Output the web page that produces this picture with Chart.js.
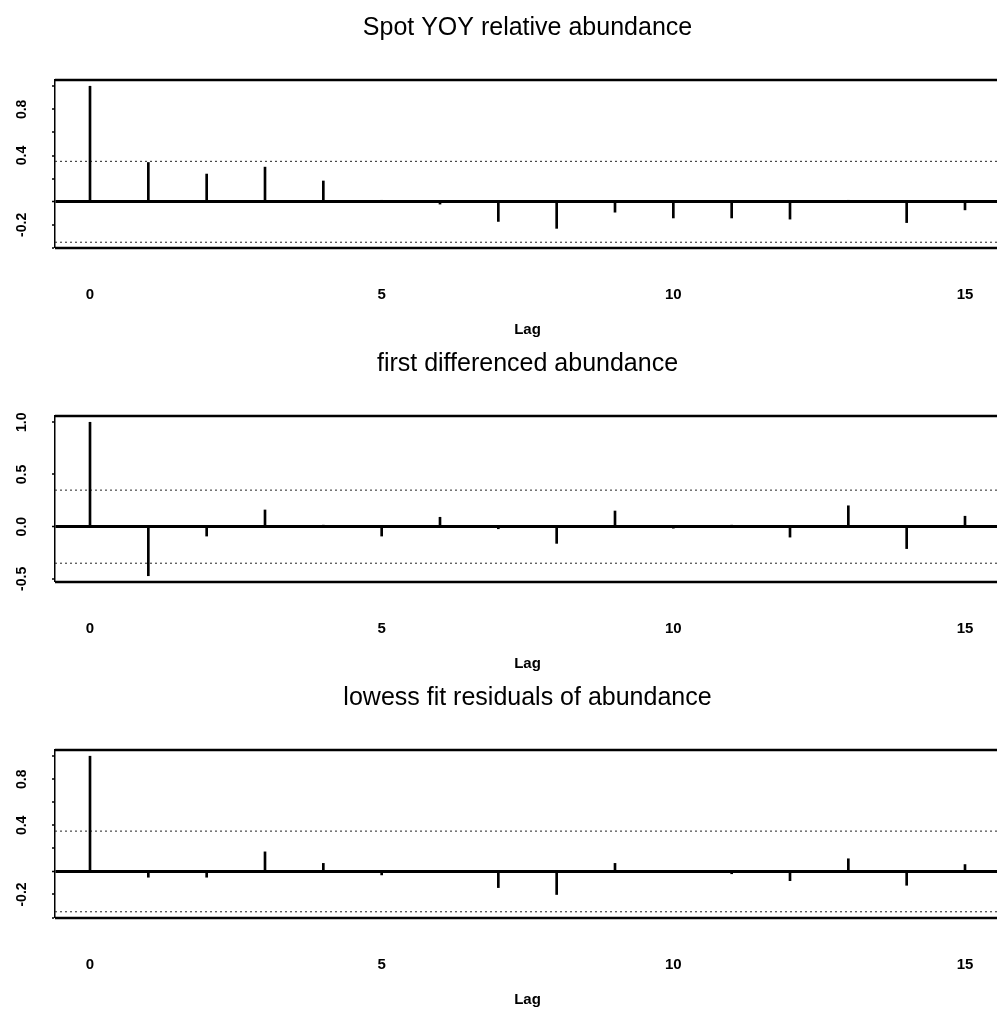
<!DOCTYPE html>
<html>
<head>
<meta charset="utf-8">
<title>ACF of Spot YOY abundance</title>
<script src="https://cdn.jsdelivr.net/npm/chart.js@4.4.1/dist/chart.umd.min.js"></script>
<style>
  html, body { margin: 0; padding: 0; background: #fff; }
  #page { position: relative; width: 997px; height: 1010px; overflow: hidden; background: #fff; }
  #page canvas { position: absolute; left: 0; }
</style>
</head>
<body>
<div id="page">
  <canvas id="acf1" width="1000" height="339" style="top:0px"></canvas>
  <canvas id="acf2" width="1000" height="337" style="top:336px"></canvas>
  <canvas id="acf3" width="1000" height="339" style="top:670px"></canvas>
</div>
<script>
// lags 0..15
const lags = [0, 1, 2, 3, 4, 5, 6, 7, 8, 9, 10, 11, 12, 13, 14, 15];

// autocorrelations
const acfRaw = [1.0, 0.34, 0.24, 0.30, 0.18, 0.01, -0.02, -0.17, -0.23, -0.09, -0.14, -0.14, -0.15, 0.01, -0.18, -0.07];
const acfDiff = [1.0, -0.47, -0.09, 0.16, 0.01, -0.09, 0.09, -0.02, -0.16, 0.15, -0.01, 0.01, -0.10, 0.20, -0.21, 0.10];
const acfLowess = [1.0, -0.05, -0.05, 0.17, 0.07, -0.03, 0.0, -0.14, -0.20, 0.07, 0.0, -0.02, -0.08, 0.11, -0.12, 0.06];

// approx 95% bounds
const ciBound = [0.35, 0.35, 0.35];

const titles = ['Spot YOY relative abundance', 'first differenced abundance', 'lowess fit residuals of abundance'];

// y axis ranges and labelled ticks
const yRanges = [[-0.40, 1.054], [-0.53, 1.06], [-0.404, 1.054]];
const yStep = [0.2, 0.5, 0.2];
const yLabels = [[-0.2, 0.4, 0.8], [-0.5, 0.0, 0.5, 1.0], [-0.2, 0.4, 0.8]];

const xMin = -0.6, xMax = 15.6;
const FONT = '"Liberation Sans", Arial, Helvetica, sans-serif';

// draws the box, and the rotated y labels R-style
const framePlugin = {
    id: 'acfFrame',
    afterDraw(chart, args, opts) {
        const { ctx, chartArea: a, scales } = chart;
        ctx.save();
        ctx.strokeStyle = '#000';
        ctx.lineWidth = 2.5;
        ctx.beginPath();
        ctx.moveTo(a.left, a.top);
        ctx.lineTo(a.right + 5, a.top);
        ctx.moveTo(a.left, a.bottom);
        ctx.lineTo(a.right + 5, a.bottom);
        ctx.stroke();

        ctx.fillStyle = '#000';
        ctx.font = 'bold 14px ' + FONT;
        ctx.textAlign = 'center';
        ctx.textBaseline = 'middle';
        opts.labels.forEach(v => {
            const y = scales.y.getPixelForValue(v);
            ctx.save();
            ctx.translate(22, y);
            ctx.rotate(-Math.PI / 2);
            ctx.fillText(v.toFixed(1), 0, 0);
            ctx.restore();
        });
        ctx.restore();
    }
};

function makeAcfChart(id, values, ci, title, yRange, step, labels) {
    const ciStyle = {
        type: 'line',
        borderColor: '#222',
        borderWidth: 1,
        borderDash: [2, 3],
        pointRadius: 0,
        fill: false
    };
    return new Chart(document.getElementById(id), {
        type: 'bar',
        data: {
            datasets: [
                {
                    label: 'ACF',
                    data: lags.map((l, i) => ({ x: l, y: values[i] })),
                    backgroundColor: '#000',
                    borderWidth: 0,
                    barThickness: 2
                },
                Object.assign({ label: 'upper', data: [{ x: xMin, y: ci }, { x: xMax, y: ci }] }, ciStyle),
                Object.assign({ label: 'lower', data: [{ x: xMin, y: -ci }, { x: xMax, y: -ci }] }, ciStyle)
            ]
        },
        options: {
            responsive: false,
            animation: false,
            devicePixelRatio: 1,
            layout: { padding: { left: 52, right: 0, top: 0, bottom: 0 } },
            plugins: {
                legend: { display: false },
                tooltip: { enabled: false },
                title: {
                    display: true,
                    text: title,
                    fullSize: false,
                    color: '#000',
                    font: { family: FONT, size: 25, weight: 'normal' },
                    padding: { top: 13, bottom: 37 }
                },
                acfFrame: { labels: labels }
            },
            scales: {
                x: {
                    type: 'linear',
                    min: xMin,
                    max: xMax,
                    offset: false,
                    // invisible tick marks give the gap below the box
                    grid: {
                        display: true,
                        drawOnChartArea: false,
                        drawTicks: true,
                        tickLength: 38,
                        color: 'rgba(0,0,0,0)',
                        tickColor: 'rgba(0,0,0,0)'
                    },
                    border: { display: false },
                    ticks: {
                        stepSize: 5,
                        includeBounds: false,
                        padding: 0,
                        color: '#000',
                        maxRotation: 0,
                        font: { family: FONT, size: 15, weight: 'bold' }
                    },
                    title: {
                        display: true,
                        text: 'Lag',
                        color: '#000',
                        font: { family: FONT, size: 15, weight: 'bold' },
                        padding: { top: 17, bottom: 0 }
                    }
                },
                y: {
                    min: yRange[0],
                    max: yRange[1],
                    ticks: { display: false, stepSize: step, includeBounds: false },
                    grid: {
                        color: c => (c.tick && Math.abs(c.tick.value) < 1e-9) ? '#000' : 'rgba(0,0,0,0)',
                        lineWidth: c => (c.tick && Math.abs(c.tick.value) < 1e-9) ? 3 : 0,
                        drawTicks: true,
                        tickLength: 3,
                        tickColor: '#000',
                        tickWidth: 1.5
                    },
                    border: { display: true, color: '#000', width: 1.5 }
                }
            }
        },
        plugins: [framePlugin]
    });
}

makeAcfChart('acf1', acfRaw, ciBound[0], titles[0], yRanges[0], yStep[0], yLabels[0]);
makeAcfChart('acf2', acfDiff, ciBound[1], titles[1], yRanges[1], yStep[1], yLabels[1]);
makeAcfChart('acf3', acfLowess, ciBound[2], titles[2], yRanges[2], yStep[2], yLabels[2]);
</script>
</body>
</html>
